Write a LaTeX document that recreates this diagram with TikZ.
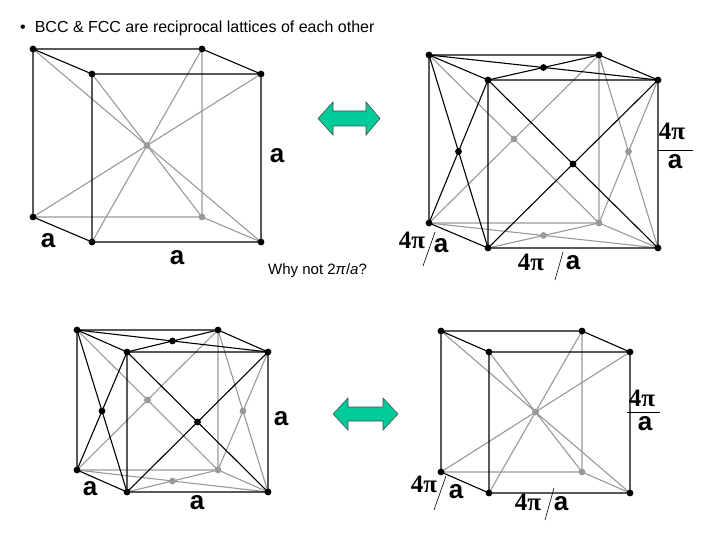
\documentclass[tikz,border=0pt]{standalone}
\usepackage{fontspec}
\setmainfont{Liberation Sans}
\newfontfamily\pifont{Liberation Serif}
\usetikzlibrary{calc}
\definecolor{gl}{HTML}{999999}
\definecolor{grn}{RGB}{0,204,153}
\tikzset{
 bl/.style={black,line width=1.1pt},
 gr/.style={gl,line width=1.1pt},
 lab/.style={font=\bfseries\fontsize{26}{26}\selectfont,inner sep=0pt},
 pil/.style={font=\pifont\bfseries\fontsize{25}{25}\selectfont,inner sep=0pt},
 arr/.style={fill=grn,draw=black!70,line width=0.6pt},
}
\newcommand\mkcube[7]{%
 \coordinate (#1fbl) at (#2,#3);
 \coordinate (#1fbr) at ({#2+#4},#3);
 \coordinate (#1ftl) at (#2,{#3-#5});
 \coordinate (#1ftr) at ({#2+#4},{#3-#5});
 \coordinate (#1bbl) at ({#2+#6},{#3+#7});
 \coordinate (#1bbr) at ({#2+#4+#6},{#3+#7});
 \coordinate (#1btl) at ({#2+#6},{#3-#5+#7});
 \coordinate (#1btr) at ({#2+#4+#6},{#3-#5+#7});
}
\newcommand\edges[1]{%
 \draw[gr] (#1btr)--(#1bbr) (#1bbl)--(#1bbr)--(#1fbr);
 \draw[bl] (#1btl)--(#1btr)--(#1ftr)--(#1ftl)--cycle (#1btl)--(#1bbl)--(#1fbl)--(#1fbr)--(#1ftr) (#1ftl)--(#1fbl);
}
\newcommand\dotsbcc[1]{%
 \foreach \p in {fbl,fbr,ftl,ftr,bbl,btl,btr} \fill (#1\p) circle (3.4);
 \fill[gl] (#1bbr) circle (3.4);
}
\newcommand\bcc[1]{%
 \coordinate (#1c) at ($(#1btl)!0.5!(#1fbr)$);
 \draw[gr] (#1btl)--(#1fbr) (#1btr)--(#1fbl) (#1ftl)--(#1bbr) (#1ftr)--(#1bbl);
 \edges{#1}\dotsbcc{#1}
 \fill[gl] (#1c) circle (3.4);
}
\newcommand\fcc[1]{%
 \coordinate (#1tc) at ($(#1btl)!0.5!(#1ftr)$);
 \coordinate (#1lc) at ($(#1btl)!0.5!(#1fbl)$);
 \coordinate (#1fc) at ($(#1ftl)!0.5!(#1fbr)$);
 \coordinate (#1kc) at ($(#1btl)!0.5!(#1bbr)$);
 \coordinate (#1rc) at ($(#1btr)!0.5!(#1fbr)$);
 \coordinate (#1dc) at ($(#1bbl)!0.5!(#1fbr)$);
 \draw[gr] (#1btl)--(#1bbr) (#1btr)--(#1bbl) (#1btr)--(#1fbr) (#1ftr)--(#1bbr) (#1bbl)--(#1fbr) (#1fbl)--(#1bbr);
 \edges{#1}
 \draw[bl] (#1btl)--(#1ftr) (#1btr)--(#1ftl) (#1btl)--(#1fbl) (#1ftl)--(#1bbl) (#1ftl)--(#1fbr) (#1ftr)--(#1fbl);
 \dotsbcc{#1}
 \foreach \p in {tc,lc,fc} \fill (#1\p) circle (3.4);
 \foreach \p in {kc,rc,dc} \fill[gl] (#1\p) circle (3.4);
}
\newcommand\slfrac[6]{% 4pi pos, a pos, line start, line end
 \node[pil] at (#1,#2) {4π};
 \node[lab] at (#3,#4) {a};
 \draw[line width=0.6pt] #5 -- #6;
}
\begin{document}
\begin{tikzpicture}[x=1pt,y=-1pt]
\useasboundingbox (0,0) rectangle (720,540);
\node[anchor=west,font=\fontsize{16}{16}\selectfont,inner sep=0pt] (title) at (20,28) {•\hspace{9pt}BCC \& FCC are reciprocal lattices of each other};
% top left BCC
\mkcube{A}{92}{242}{169}{168}{-59}{-25}
\bcc{A}
\node[lab] (a1) at (48,241) {a};
\node[lab] (a2) at (177,258) {a};
\node[lab] (a3) at (277,156) {a};
% top right FCC
\mkcube{B}{488}{248}{170}{168}{-59}{-25}
\fcc{B}
\slfrac{412}{240}{441}{246}{(423,266)}{(435,232)}
\slfrac{531}{262}{573}{263}{(555,280)}{(563,252)}
\node[pil] (b4) at (672,131) {4π};
\draw[line width=0.6pt] (658,150)--(693,150);
\node[lab] (b5) at (675,162) {a};
% bottom left FCC
\mkcube{C}{127}{492}{141}{140}{-50}{-22}
\fcc{C}
\node[lab] (c1) at (90,489) {a};
\node[lab] (c2) at (197,503) {a};
\node[lab] (c3) at (281,419) {a};
% bottom right BCC
\mkcube{D}{489}{493}{141}{141}{-48}{-21}
\bcc{D}
\slfrac{424}{484}{456}{492}{(434,510)}{(446,476)}
\slfrac{528}{502}{561}{504}{(545,520)}{(554,488)}
\node[pil] (d4) at (642,398) {4π};
\draw[line width=0.6pt] (627,412)--(660,412);
\node[lab] (d5) at (645,424) {a};
% arrows
\draw[arr] (318,118.5)--(333,102)--(333,111)--(366,111)--(366,102)--(380,118.5)--(366,135)--(366,126)--(333,126)--(333,135)--cycle;
\draw[arr] (333,414)--(348,398)--(348,407)--(383,407)--(383,398)--(398,414)--(383,430)--(383,421)--(348,421)--(348,430)--cycle;
\node[anchor=west,font=\fontsize{15}{15}\selectfont,inner sep=0pt] (why) at (268,271) {Why not 2\textit{π}/\textit{a}?};
\end{tikzpicture}
\end{document}
